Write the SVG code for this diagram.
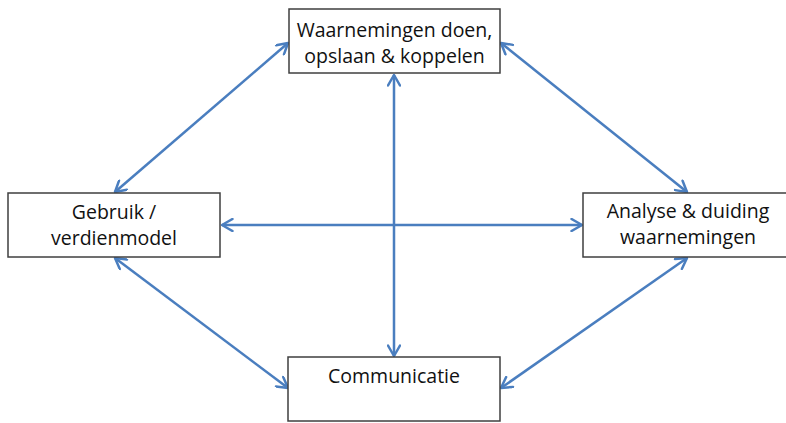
<svg xmlns="http://www.w3.org/2000/svg" width="786" height="423" viewBox="0 0 786 423">
  <style>
    .box { fill: #ffffff; stroke: #3f3f3f; stroke-width: 1.5; }
    .lbl { font-family: "Open Sans", "Liberation Sans", sans-serif; font-size: 19.5px; fill: #111111; text-anchor: middle; }
    .con { stroke: #4a7ebf; stroke-width: 2.5; fill: none; marker-start: url(#ah); marker-end: url(#ah); }
  </style>
  <defs>
    <marker id="ah" viewBox="0 0 14 14" refX="12.5" refY="7" markerWidth="14" markerHeight="14" markerUnits="userSpaceOnUse" orient="auto-start-reverse">
      <path d="M2,1 L12.5,7 L2,13" fill="none" stroke="#4a7ebf" stroke-width="2.5" stroke-linecap="round" stroke-linejoin="round"/>
    </marker>
  </defs>
  <rect width="786" height="423" fill="#ffffff"/>
  <g id="connectors">
    <line class="con" x1="394" y1="75" x2="394" y2="356"/>
    <line class="con" x1="222" y1="225" x2="582" y2="225"/>
    <line class="con" x1="288" y1="43" x2="115" y2="192"/>
    <line class="con" x1="501" y1="43" x2="687" y2="192"/>
    <line class="con" x1="115" y1="258" x2="288" y2="388"/>
    <line class="con" x1="687" y1="258" x2="501" y2="388"/>
  </g>
  <g id="node-top">
    <rect class="box" x="289" y="9" width="211" height="64"/>
    <text class="lbl" x="394.5" y="37">Waarnemingen doen,</text>
    <text class="lbl" x="394.5" y="63">opslaan &amp; koppelen</text>
  </g>
  <g id="node-left">
    <rect class="box" x="8" y="193" width="212" height="64"/>
    <text class="lbl" x="114" y="219">Gebruik /</text>
    <text class="lbl" x="114" y="245">verdienmodel</text>
  </g>
  <g id="node-right">
    <rect class="box" x="583" y="193" width="215" height="64"/>
    <text class="lbl" x="688" y="218">Analyse &amp; duiding</text>
    <text class="lbl" x="688" y="244">waarnemingen</text>
  </g>
  <g id="node-bottom">
    <rect class="box" x="288" y="357" width="212" height="64"/>
    <text class="lbl" x="394" y="383">Communicatie</text>
  </g>
</svg>
